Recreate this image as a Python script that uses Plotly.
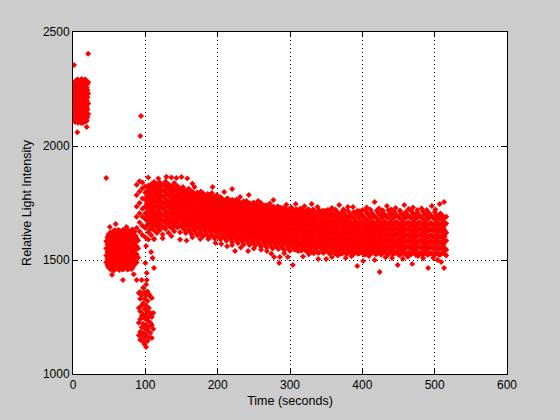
"""Light intensity over time, redrawn as a MATLAB style scatter."""
import plotly.graph_objects as go

dark_times = [1, 2, 3, 4, 5, 6, 7, 8, 9, 10, 11, 12, 13, 14, 15, 16, 17, 18, 19, 20, 21]
dark_values = [
    [2125, 2160, 2205, 2230, 2262],
    [2112, 2150, 2186, 2216, 2244, 2276],
    [2105, 2140, 2172, 2198, 2226, 2254, 2284],
    [2126, 2158, 2188, 2212, 2242, 2268],
    [2118, 2146, 2180, 2212, 2238, 2270],
    [2108, 2136, 2166, 2200, 2226, 2256, 2292],
    [2102, 2130, 2158, 2190, 2220, 2248, 2290],
    [2114, 2144, 2172, 2206, 2236, 2270],
    [2120, 2150, 2176, 2204, 2234, 2262, 2281],
    [2106, 2128, 2162, 2190, 2216, 2246, 2288],
    [2108, 2136, 2166, 2196, 2224, 2252, 2276],
    [2124, 2152, 2180, 2210, 2238, 2264, 2294],
    [2116, 2144, 2182, 2210, 2240, 2268, 2288],
    [2110, 2138, 2168, 2198, 2226, 2256, 2280],
    [2104, 2132, 2160, 2192, 2218, 2250, 2278],
    [2118, 2146, 2174, 2204, 2232, 2260, 2290],
    [2122, 2150, 2178, 2206, 2236, 2262, 2292],
    [2108, 2134, 2164, 2192, 2220, 2248, 2274],
    [2112, 2142, 2170, 2200, 2228, 2256, 2284],
    [2126, 2160, 2190, 2214, 2244, 2272],
    [2140, 2185, 2230, 2280],
]

dip_times = [
    46, 47.5, 49, 50.5, 52, 53.5, 55, 56.5, 58, 59.5, 61, 62.5, 64, 65.5, 67, 68.5, 70,
    71.5, 73, 74.5, 76, 77.5, 79, 80.5, 82, 83.5, 85, 86.5, 88, 90,
]
dip_values = [
    [1490, 1520, 1550, 1582],
    [1478, 1506, 1536, 1568, 1600],
    [1468, 1495, 1528, 1556, 1588, 1612],
    [1472, 1502, 1518, 1544, 1576, 1604],
    [1458, 1484, 1512, 1540, 1572, 1600, 1622],
    [1466, 1498, 1524, 1552, 1582, 1610],
    [1470, 1500, 1530, 1562, 1590, 1618],
    [1454, 1482, 1514, 1546, 1574, 1604, 1628],
    [1462, 1488, 1516, 1546, 1576, 1604, 1630],
    [1472, 1500, 1528, 1556, 1586, 1614],
    [1476, 1506, 1536, 1566, 1596, 1622],
    [1460, 1490, 1520, 1552, 1582, 1610, 1632],
    [1456, 1486, 1514, 1544, 1574, 1606, 1628],
    [1474, 1502, 1532, 1562, 1592, 1618],
    [1470, 1498, 1528, 1558, 1588, 1616],
    [1458, 1484, 1514, 1544, 1574, 1602, 1630],
    [1460, 1490, 1520, 1550, 1580, 1608, 1632],
    [1468, 1496, 1526, 1556, 1586, 1616],
    [1476, 1504, 1534, 1564, 1594, 1624],
    [1462, 1488, 1520, 1550, 1578, 1606, 1634],
    [1458, 1486, 1516, 1546, 1576, 1602, 1630],
    [1466, 1496, 1524, 1554, 1584, 1612],
    [1472, 1500, 1530, 1560, 1590, 1620],
    [1460, 1488, 1516, 1546, 1576, 1606, 1628],
    [1464, 1492, 1522, 1552, 1582, 1610, 1634],
    [1474, 1502, 1532, 1562, 1592, 1618],
    [1480, 1510, 1540, 1570, 1600, 1624],
    [1486, 1518, 1548, 1578, 1606],
    [1490, 1525, 1560, 1595],
    [1510, 1550, 1586],
]

spike_times = [91, 93, 95, 97, 99, 101, 103, 105, 107, 109, 111]
spike_values = [
    [1170, 1225, 1290, 1355],
    [1150, 1185, 1240, 1275, 1330, 1360],
    [1165, 1205, 1255, 1300, 1345],
    [1140, 1180, 1220, 1262, 1310, 1378],
    [1130, 1160, 1200, 1245, 1285, 1330, 1360],
    [1118, 1170, 1215, 1258, 1300, 1345, 1392],
    [1145, 1190, 1235, 1275, 1320, 1362],
    [1160, 1205, 1250, 1290, 1350],
    [1180, 1225, 1268, 1340],
    [1158, 1215, 1250, 1333],
    [1197, 1268],
]

plateau_times = [
    88, 92, 96, 100, 104, 108, 112, 116, 120, 124, 128, 132, 136, 140, 144, 148,
    152, 156, 160, 164, 168, 172, 176, 180, 184, 188, 192, 196, 200, 204, 208, 212,
    216, 220, 224, 228, 232, 236, 240, 244, 248, 252, 256, 260, 264, 268, 272, 276,
    280, 284, 288, 292, 296, 300, 304, 308, 312, 316, 320, 324, 328, 332, 336, 340,
    344, 348, 352, 356, 360, 364, 368, 372, 376, 380, 384, 388, 392, 396, 400, 404,
    408, 412, 416, 420, 424, 428, 432, 436, 440, 444, 448, 452, 456, 460, 464, 468,
    472, 476, 480, 484, 488, 492, 496, 500, 504, 508, 512, 516,
]
plateau_values = [
    [1640, 1690, 1735, 1785, 1830],
    [1625, 1665, 1705, 1750, 1800, 1845],
    [1610, 1650, 1690, 1725, 1770, 1815, 1840],
    [1600, 1640, 1680, 1705, 1735, 1765, 1795, 1822],
    [1590, 1622, 1655, 1685, 1712, 1742, 1770, 1798, 1826],
    [1610, 1640, 1668, 1695, 1725, 1752, 1780, 1808, 1832],
    [1592, 1630, 1660, 1686, 1712, 1738, 1766, 1794, 1822, 1842],
    [1618, 1645, 1672, 1700, 1728, 1756, 1782, 1810, 1834],
    [1630, 1656, 1684, 1710, 1738, 1764, 1792, 1820, 1840],
    [1612, 1645, 1672, 1698, 1726, 1752, 1780, 1806, 1830],
    [1636, 1660, 1688, 1714, 1742, 1768, 1796, 1822, 1844],
    [1620, 1650, 1676, 1702, 1730, 1756, 1784, 1810, 1832],
    [1640, 1664, 1690, 1718, 1744, 1770, 1798, 1824],
    [1626, 1652, 1680, 1706, 1732, 1760, 1786, 1812, 1838],
    [1644, 1668, 1694, 1720, 1748, 1774, 1800, 1826],
    [1622, 1654, 1682, 1708, 1736, 1762, 1788, 1814],
    [1640, 1662, 1690, 1716, 1742, 1768, 1794, 1820],
    [1618, 1650, 1676, 1702, 1728, 1756, 1782, 1806],
    [1630, 1658, 1684, 1710, 1736, 1762, 1788, 1812],
    [1612, 1644, 1670, 1696, 1722, 1750, 1776, 1800],
    [1628, 1654, 1680, 1706, 1732, 1758, 1784],
    [1608, 1640, 1666, 1692, 1720, 1746, 1772, 1796],
    [1622, 1650, 1676, 1702, 1728, 1754, 1778],
    [1604, 1636, 1662, 1688, 1714, 1740, 1766, 1792],
    [1616, 1644, 1670, 1696, 1722, 1748, 1774],
    [1598, 1630, 1656, 1682, 1708, 1734, 1760, 1786],
    [1610, 1640, 1666, 1692, 1718, 1744, 1770, 1794],
    [1594, 1626, 1652, 1678, 1704, 1730, 1756, 1780],
    [1606, 1636, 1662, 1688, 1714, 1740, 1764],
    [1590, 1622, 1648, 1674, 1700, 1726, 1752, 1772],
    [1604, 1632, 1658, 1684, 1710, 1736, 1760],
    [1584, 1618, 1644, 1670, 1696, 1722, 1748, 1768],
    [1600, 1628, 1654, 1680, 1706, 1732, 1756],
    [1578, 1612, 1640, 1666, 1692, 1718, 1744, 1764],
    [1594, 1622, 1648, 1674, 1700, 1726, 1750],
    [1574, 1606, 1634, 1660, 1686, 1712, 1738, 1756],
    [1590, 1618, 1644, 1670, 1696, 1722, 1746],
    [1568, 1602, 1630, 1656, 1682, 1708, 1734, 1752],
    [1586, 1614, 1640, 1666, 1692, 1718, 1742],
    [1566, 1598, 1626, 1652, 1678, 1704, 1730, 1748],
    [1582, 1610, 1636, 1662, 1688, 1714, 1738],
    [1562, 1594, 1622, 1648, 1674, 1700, 1726, 1744],
    [1578, 1606, 1632, 1658, 1684, 1710, 1734],
    [1558, 1590, 1618, 1644, 1670, 1696, 1722, 1742],
    [1574, 1602, 1628, 1654, 1680, 1706, 1730],
    [1554, 1586, 1614, 1640, 1666, 1692, 1718, 1738],
    [1570, 1598, 1624, 1650, 1676, 1702, 1726],
    [1550, 1582, 1610, 1636, 1662, 1688, 1714, 1734],
    [1566, 1594, 1620, 1646, 1672, 1698, 1724],
    [1548, 1578, 1606, 1632, 1658, 1684, 1710, 1730],
    [1562, 1590, 1616, 1642, 1668, 1694, 1720],
    [1544, 1574, 1602, 1628, 1654, 1680, 1706, 1728],
    [1560, 1586, 1612, 1638, 1664, 1690, 1716],
    [1540, 1572, 1600, 1626, 1652, 1678, 1704, 1726],
    [1556, 1584, 1610, 1636, 1662, 1688, 1714],
    [1546, 1570, 1598, 1624, 1650, 1676, 1702, 1722],
    [1558, 1582, 1608, 1634, 1660, 1686, 1712],
    [1542, 1568, 1596, 1622, 1648, 1674, 1700, 1724],
    [1554, 1580, 1606, 1632, 1658, 1684, 1710],
    [1538, 1566, 1594, 1620, 1646, 1672, 1698, 1720],
    [1552, 1578, 1604, 1630, 1656, 1682, 1708],
    [1534, 1564, 1592, 1618, 1644, 1670, 1696, 1722],
    [1550, 1576, 1602, 1628, 1654, 1680, 1706],
    [1532, 1562, 1590, 1616, 1642, 1668, 1694, 1718],
    [1548, 1574, 1600, 1626, 1652, 1678, 1704],
    [1536, 1560, 1588, 1614, 1640, 1666, 1692, 1716],
    [1546, 1572, 1598, 1624, 1650, 1676, 1702],
    [1530, 1558, 1586, 1612, 1638, 1664, 1690, 1720],
    [1544, 1570, 1596, 1622, 1648, 1674, 1700],
    [1534, 1556, 1584, 1610, 1636, 1662, 1688, 1714],
    [1542, 1568, 1594, 1620, 1646, 1672, 1698],
    [1528, 1554, 1582, 1608, 1634, 1660, 1686, 1712],
    [1540, 1566, 1592, 1618, 1644, 1670, 1696],
    [1530, 1552, 1580, 1606, 1632, 1658, 1684, 1716],
    [1538, 1564, 1590, 1616, 1642, 1668, 1694],
    [1526, 1552, 1578, 1606, 1632, 1658, 1684, 1710],
    [1540, 1566, 1592, 1618, 1644, 1670, 1698],
    [1530, 1554, 1580, 1608, 1634, 1660, 1686, 1714],
    [1536, 1564, 1590, 1616, 1642, 1668, 1696],
    [1524, 1550, 1578, 1604, 1630, 1656, 1682, 1718],
    [1538, 1566, 1592, 1618, 1644, 1670, 1698],
    [1528, 1552, 1580, 1606, 1632, 1658, 1684, 1712],
    [1534, 1562, 1588, 1614, 1640, 1666, 1694],
    [1526, 1550, 1576, 1604, 1630, 1656, 1682, 1716],
    [1540, 1566, 1592, 1618, 1644, 1670, 1700],
    [1530, 1554, 1580, 1606, 1632, 1658, 1686, 1710],
    [1536, 1562, 1590, 1616, 1642, 1668, 1696],
    [1524, 1552, 1578, 1604, 1630, 1656, 1684, 1718],
    [1538, 1564, 1590, 1616, 1642, 1670, 1700],
    [1528, 1554, 1580, 1606, 1632, 1658, 1686, 1712],
    [1534, 1560, 1588, 1614, 1640, 1666, 1696],
    [1522, 1550, 1576, 1602, 1628, 1654, 1682, 1716],
    [1538, 1564, 1590, 1616, 1642, 1668, 1698],
    [1528, 1552, 1578, 1604, 1630, 1656, 1684, 1710],
    [1532, 1560, 1586, 1612, 1638, 1664, 1694],
    [1526, 1550, 1576, 1602, 1628, 1654, 1682, 1714],
    [1536, 1562, 1588, 1614, 1640, 1668, 1698],
    [1524, 1552, 1578, 1604, 1630, 1656, 1684, 1708],
    [1532, 1558, 1586, 1612, 1638, 1664, 1692],
    [1522, 1548, 1574, 1600, 1626, 1652, 1680, 1712],
    [1534, 1560, 1586, 1612, 1638, 1666, 1696],
    [1526, 1550, 1576, 1602, 1628, 1654, 1682, 1706],
    [1530, 1558, 1584, 1610, 1636, 1662, 1692],
    [1522, 1548, 1574, 1600, 1626, 1652, 1680, 1710],
    [1532, 1558, 1584, 1610, 1636, 1664, 1694],
    [1524, 1550, 1576, 1602, 1628, 1654, 1682, 1704],
    [1536, 1566, 1592, 1618, 1644, 1670],
    [1545, 1585, 1620, 1660, 1690],
]

# Second pass through the same cloud, between the columns above.
plateau_mid_times = [
    102, 106, 110, 114, 118, 122, 126, 130, 134, 138, 142, 146, 150, 154, 158, 162, 166,
    170, 174, 178, 182, 186, 190, 194, 198, 202, 206, 210, 214, 218, 222, 226, 230, 234,
    238, 242, 246, 250, 254, 258, 262, 266, 270, 274, 278, 282, 286, 290, 294, 298, 302,
    306, 310, 314, 318, 322, 326, 330, 334, 338, 342, 346, 350, 354, 358, 362, 366, 370,
    374, 378, 382, 386, 390, 394, 398, 402, 406, 410, 414, 418, 422, 426, 430, 434, 438,
    442, 446, 450, 454, 458, 462, 466, 470, 474, 478, 482, 486, 490, 494, 498, 502, 506,
    510, 514,
]
plateau_mid_values = [
    [1651, 1673, 1698, 1727, 1749, 1778, 1803],
    [1633, 1660, 1681, 1710, 1738, 1761, 1789, 1815],
    [1648, 1676, 1699, 1724, 1753, 1774, 1801, 1826],
    [1655, 1679, 1706, 1733, 1758, 1785, 1811],
    [1640, 1668, 1693, 1719, 1746, 1772, 1797, 1828],
    [1650, 1675, 1701, 1731, 1755, 1781, 1808],
    [1644, 1671, 1697, 1724, 1751, 1777, 1804, 1830],
    [1662, 1684, 1709, 1737, 1761, 1790, 1815],
    [1652, 1678, 1703, 1730, 1757, 1783, 1807],
    [1641, 1670, 1696, 1723, 1748, 1775, 1802, 1826],
    [1658, 1681, 1707, 1734, 1759, 1786, 1811],
    [1646, 1673, 1699, 1727, 1752, 1779, 1805],
    [1654, 1677, 1703, 1729, 1755, 1781, 1806],
    [1634, 1664, 1689, 1715, 1742, 1769, 1795],
    [1648, 1672, 1697, 1723, 1750, 1776, 1801],
    [1625, 1660, 1686, 1712, 1738, 1765, 1790],
    [1642, 1667, 1693, 1719, 1744, 1771, 1797],
    [1618, 1652, 1678, 1705, 1731, 1757, 1783],
    [1635, 1661, 1687, 1712, 1739, 1765, 1788],
    [1612, 1647, 1673, 1699, 1725, 1751, 1779],
    [1628, 1657, 1682, 1708, 1734, 1760, 1783],
    [1609, 1641, 1668, 1694, 1720, 1747, 1773],
    [1624, 1652, 1678, 1703, 1730, 1755, 1781],
    [1604, 1638, 1664, 1690, 1716, 1742, 1768],
    [1619, 1648, 1673, 1699, 1725, 1751, 1776],
    [1598, 1634, 1660, 1686, 1712, 1738, 1763],
    [1614, 1642, 1669, 1695, 1721, 1747, 1770],
    [1596, 1630, 1656, 1682, 1708, 1734, 1759],
    [1610, 1638, 1664, 1691, 1717, 1743, 1766],
    [1592, 1624, 1651, 1677, 1703, 1729, 1755],
    [1606, 1635, 1660, 1686, 1712, 1738, 1760],
    [1586, 1619, 1646, 1672, 1698, 1724, 1751],
    [1601, 1629, 1655, 1681, 1708, 1733, 1755],
    [1581, 1614, 1641, 1667, 1693, 1719, 1745],
    [1597, 1624, 1651, 1677, 1703, 1729, 1751],
    [1577, 1610, 1637, 1663, 1689, 1715, 1741],
    [1593, 1621, 1647, 1673, 1699, 1725, 1747],
    [1572, 1605, 1632, 1658, 1685, 1711, 1737],
    [1588, 1617, 1643, 1669, 1694, 1721, 1744],
    [1569, 1601, 1629, 1654, 1680, 1707, 1733],
    [1585, 1612, 1639, 1665, 1691, 1717, 1740],
    [1564, 1596, 1624, 1651, 1677, 1703, 1730],
    [1581, 1608, 1634, 1661, 1687, 1712, 1736],
    [1560, 1592, 1620, 1647, 1673, 1699, 1726],
    [1576, 1604, 1631, 1657, 1683, 1708, 1733],
    [1556, 1589, 1616, 1643, 1669, 1695, 1722],
    [1572, 1600, 1627, 1653, 1679, 1705, 1730],
    [1553, 1585, 1613, 1639, 1665, 1691, 1717],
    [1569, 1597, 1623, 1649, 1675, 1701, 1726],
    [1549, 1581, 1609, 1635, 1661, 1687, 1714],
    [1565, 1593, 1619, 1645, 1671, 1697, 1723],
    [1546, 1577, 1605, 1631, 1657, 1683, 1711],
    [1562, 1589, 1615, 1642, 1668, 1693, 1720],
    [1543, 1574, 1601, 1628, 1654, 1680, 1708],
    [1559, 1586, 1612, 1638, 1664, 1690, 1717],
    [1540, 1571, 1598, 1625, 1651, 1677, 1705],
    [1556, 1583, 1609, 1635, 1661, 1687, 1715],
    [1536, 1568, 1595, 1622, 1648, 1674, 1702],
    [1553, 1580, 1607, 1633, 1659, 1685, 1713],
    [1533, 1565, 1593, 1619, 1645, 1671, 1700],
    [1551, 1577, 1604, 1630, 1656, 1682, 1710],
    [1531, 1563, 1590, 1617, 1643, 1669, 1698],
    [1549, 1575, 1602, 1628, 1654, 1680, 1709],
    [1530, 1561, 1588, 1615, 1641, 1667, 1696],
    [1547, 1574, 1600, 1626, 1652, 1678, 1707],
    [1528, 1559, 1587, 1613, 1639, 1665, 1694],
    [1545, 1571, 1598, 1624, 1650, 1676, 1706],
    [1527, 1557, 1585, 1611, 1637, 1663, 1693],
    [1543, 1569, 1596, 1622, 1648, 1675, 1708],
    [1526, 1555, 1583, 1609, 1635, 1661, 1691],
    [1541, 1567, 1594, 1620, 1647, 1673, 1705],
    [1525, 1553, 1581, 1607, 1633, 1659, 1690],
    [1539, 1566, 1592, 1618, 1645, 1671, 1707],
    [1527, 1552, 1579, 1605, 1631, 1657, 1689],
    [1537, 1564, 1591, 1617, 1643, 1669, 1704],
    [1525, 1551, 1578, 1604, 1630, 1656, 1688],
    [1536, 1563, 1589, 1615, 1641, 1668, 1706],
    [1524, 1553, 1579, 1605, 1631, 1657, 1690],
    [1538, 1565, 1591, 1617, 1643, 1669, 1703],
    [1526, 1551, 1577, 1603, 1629, 1655, 1687],
    [1535, 1562, 1589, 1615, 1641, 1667, 1705],
    [1523, 1549, 1577, 1603, 1629, 1655, 1689],
    [1537, 1563, 1590, 1616, 1642, 1668, 1702],
    [1527, 1552, 1578, 1604, 1630, 1657, 1688],
    [1533, 1560, 1587, 1613, 1639, 1665, 1704],
    [1525, 1550, 1576, 1603, 1629, 1655, 1686],
    [1536, 1562, 1588, 1614, 1640, 1667, 1701],
    [1523, 1551, 1577, 1603, 1629, 1655, 1688],
    [1534, 1561, 1587, 1613, 1639, 1665, 1703],
    [1526, 1549, 1575, 1601, 1627, 1653, 1685],
    [1531, 1559, 1585, 1611, 1637, 1663, 1700],
    [1524, 1551, 1577, 1603, 1629, 1655, 1687],
    [1535, 1560, 1586, 1612, 1638, 1665, 1702],
    [1522, 1549, 1575, 1601, 1627, 1653, 1684],
    [1531, 1558, 1584, 1611, 1637, 1663, 1699],
    [1525, 1551, 1577, 1603, 1629, 1655, 1686],
    [1533, 1559, 1585, 1611, 1637, 1664, 1701],
    [1523, 1549, 1575, 1601, 1627, 1653, 1683],
    [1530, 1557, 1583, 1609, 1635, 1661, 1698],
    [1525, 1550, 1576, 1602, 1628, 1654, 1685],
    [1531, 1558, 1584, 1610, 1636, 1663, 1700],
    [1522, 1548, 1574, 1600, 1626, 1652, 1682],
    [1529, 1556, 1582, 1608, 1634, 1660, 1697],
    [1526, 1552, 1578, 1604, 1630, 1656, 1686],
    [1535, 1562, 1589, 1615, 1641, 1668, 1699],
]

# Rough upper and lower rims of the plateau cloud.
top_rim_times = [
    104, 118, 129, 136, 143, 150, 158, 165, 168, 177, 186, 193, 199, 204, 209, 214, 220,
    226, 231, 236, 240, 243, 250, 256, 260, 266, 272, 277, 283, 289, 295, 302, 308, 314,
    320, 326, 330, 332, 338, 345, 352, 358, 363, 368, 374, 380, 387, 393, 400, 406, 411,
    417, 423, 428, 434, 440, 446, 452, 458, 464, 470, 476, 482, 489, 496, 501, 507, 513,
]
top_rim_values = [
    1862, 1858, 1865, 1862, 1860, 1864, 1858, 1835, 1820, 1800, 1790, 1820, 1785, 1775,
    1798, 1770, 1811, 1765, 1776, 1758, 1759, 1785, 1752, 1759, 1750, 1740, 1748, 1763,
    1735, 1728, 1742, 1730, 1746, 1725, 1736, 1722, 1746, 1719, 1732, 1716, 1719, 1728,
    1720, 1741, 1722, 1732, 1732, 1715, 1719, 1730, 1722, 1754, 1726, 1718, 1737, 1722,
    1728, 1716, 1741, 1724, 1730, 1719, 1726, 1719, 1737, 1722, 1746, 1754,
]
bottom_rim_times = [
    124, 136, 148, 157, 165, 176, 187, 197, 205, 213, 220, 224, 232, 242, 250, 260, 268,
    274, 278, 285, 286, 292, 297, 304, 311, 318, 326, 333, 339, 350, 358, 366, 377, 385,
    393, 401, 409, 417, 424, 432, 441, 449, 456, 463, 469, 477, 484, 491, 498, 504, 509,
    513, 516,
]
bottom_rim_values = [
    1595, 1605, 1590, 1585, 1600, 1592, 1592, 1575, 1570, 1560, 1566, 1539, 1555, 1539,
    1550, 1545, 1539, 1528, 1513, 1487, 1513, 1530, 1513, 1478, 1539, 1515, 1525, 1530,
    1504, 1504, 1513, 1520, 1509, 1516, 1474, 1496, 1518, 1500, 1447, 1512, 1509, 1478,
    1505, 1514, 1483, 1518, 1508, 1465, 1510, 1500, 1491, 1465, 1520,
]

# Loose points outside the main clouds.
stray_times = [
    21, 1.5, 6, 19, 12, 94, 93, 46, 51, 59, 74, 54, 69, 84, 88, 95, 102, 88, 101, 108,
    112, 110, 100, 112, 102,
]
stray_values = [
    2405, 2355, 2060, 2083, 2100, 2132, 2044, 1860, 1645, 1658, 1645, 1435, 1412, 1438,
    1412, 1412, 1412, 1587, 1561, 1535, 1592, 1509, 1487, 1465, 1443,
]

x_ticks = [0, 100, 200, 300, 400, 500, 600]
y_ticks = [1000, 1500, 2000, 2500]


def flatten(times, values):
    xs, ys = [], []
    for t, column in zip(times, values):
        xs.extend([t] * len(column))
        ys.extend(column)
    return xs, ys


fig = go.Figure()

groups = [
    flatten(dark_times, dark_values),
    flatten(dip_times, dip_values),
    flatten(spike_times, spike_values),
    flatten(plateau_times, plateau_values),
    flatten(plateau_mid_times, plateau_mid_values),
    (top_rim_times, top_rim_values),
    (bottom_rim_times, bottom_rim_values),
    (stray_times, stray_values),
]
for xs, ys in groups:
    fig.add_trace(go.Scatter(
        x=xs,
        y=ys,
        mode="markers",
        showlegend=False,
        marker={"symbol": "diamond", "size": 4.6, "color": "#ff0000"},
    ))

axis_style = dict(
    showline=True,
    linecolor="black",
    linewidth=1,
    mirror="allticks",
    ticks="inside",
    ticklen=5,
    tickcolor="black",
    showgrid=True,
    gridcolor="black",
    griddash="1px,3px",
    gridwidth=1,
    zeroline=False,
    tickfont={"family": "Liberation Sans", "size": 12, "color": "black"},
)
title_font = {"family": "Liberation Sans", "size": 12.5, "color": "black"}

fig.update_xaxes(
    range=[0, 600],
    tickvals=x_ticks,
    title={"text": "Time (seconds)", "standoff": 4, "font": title_font},
    **axis_style,
)
fig.update_yaxes(
    range=[1000, 2500],
    tickvals=y_ticks,
    title={"text": "Relative Light Intensity", "standoff": 8, "font": title_font},
    **axis_style,
)
fig.update_layout(
    width=560,
    height=420,
    paper_bgcolor="#cccccc",
    plot_bgcolor="white",
    margin={"l": 73, "r": 53, "t": 32, "b": 46},
)

# the page keeps a default body margin, drop it so the figure sits at 0,0
fig.write_html(
    "out.html",
    config={"displayModeBar": False},
    post_script="document.body.style.margin='0';document.body.style.overflow='hidden';",
)
